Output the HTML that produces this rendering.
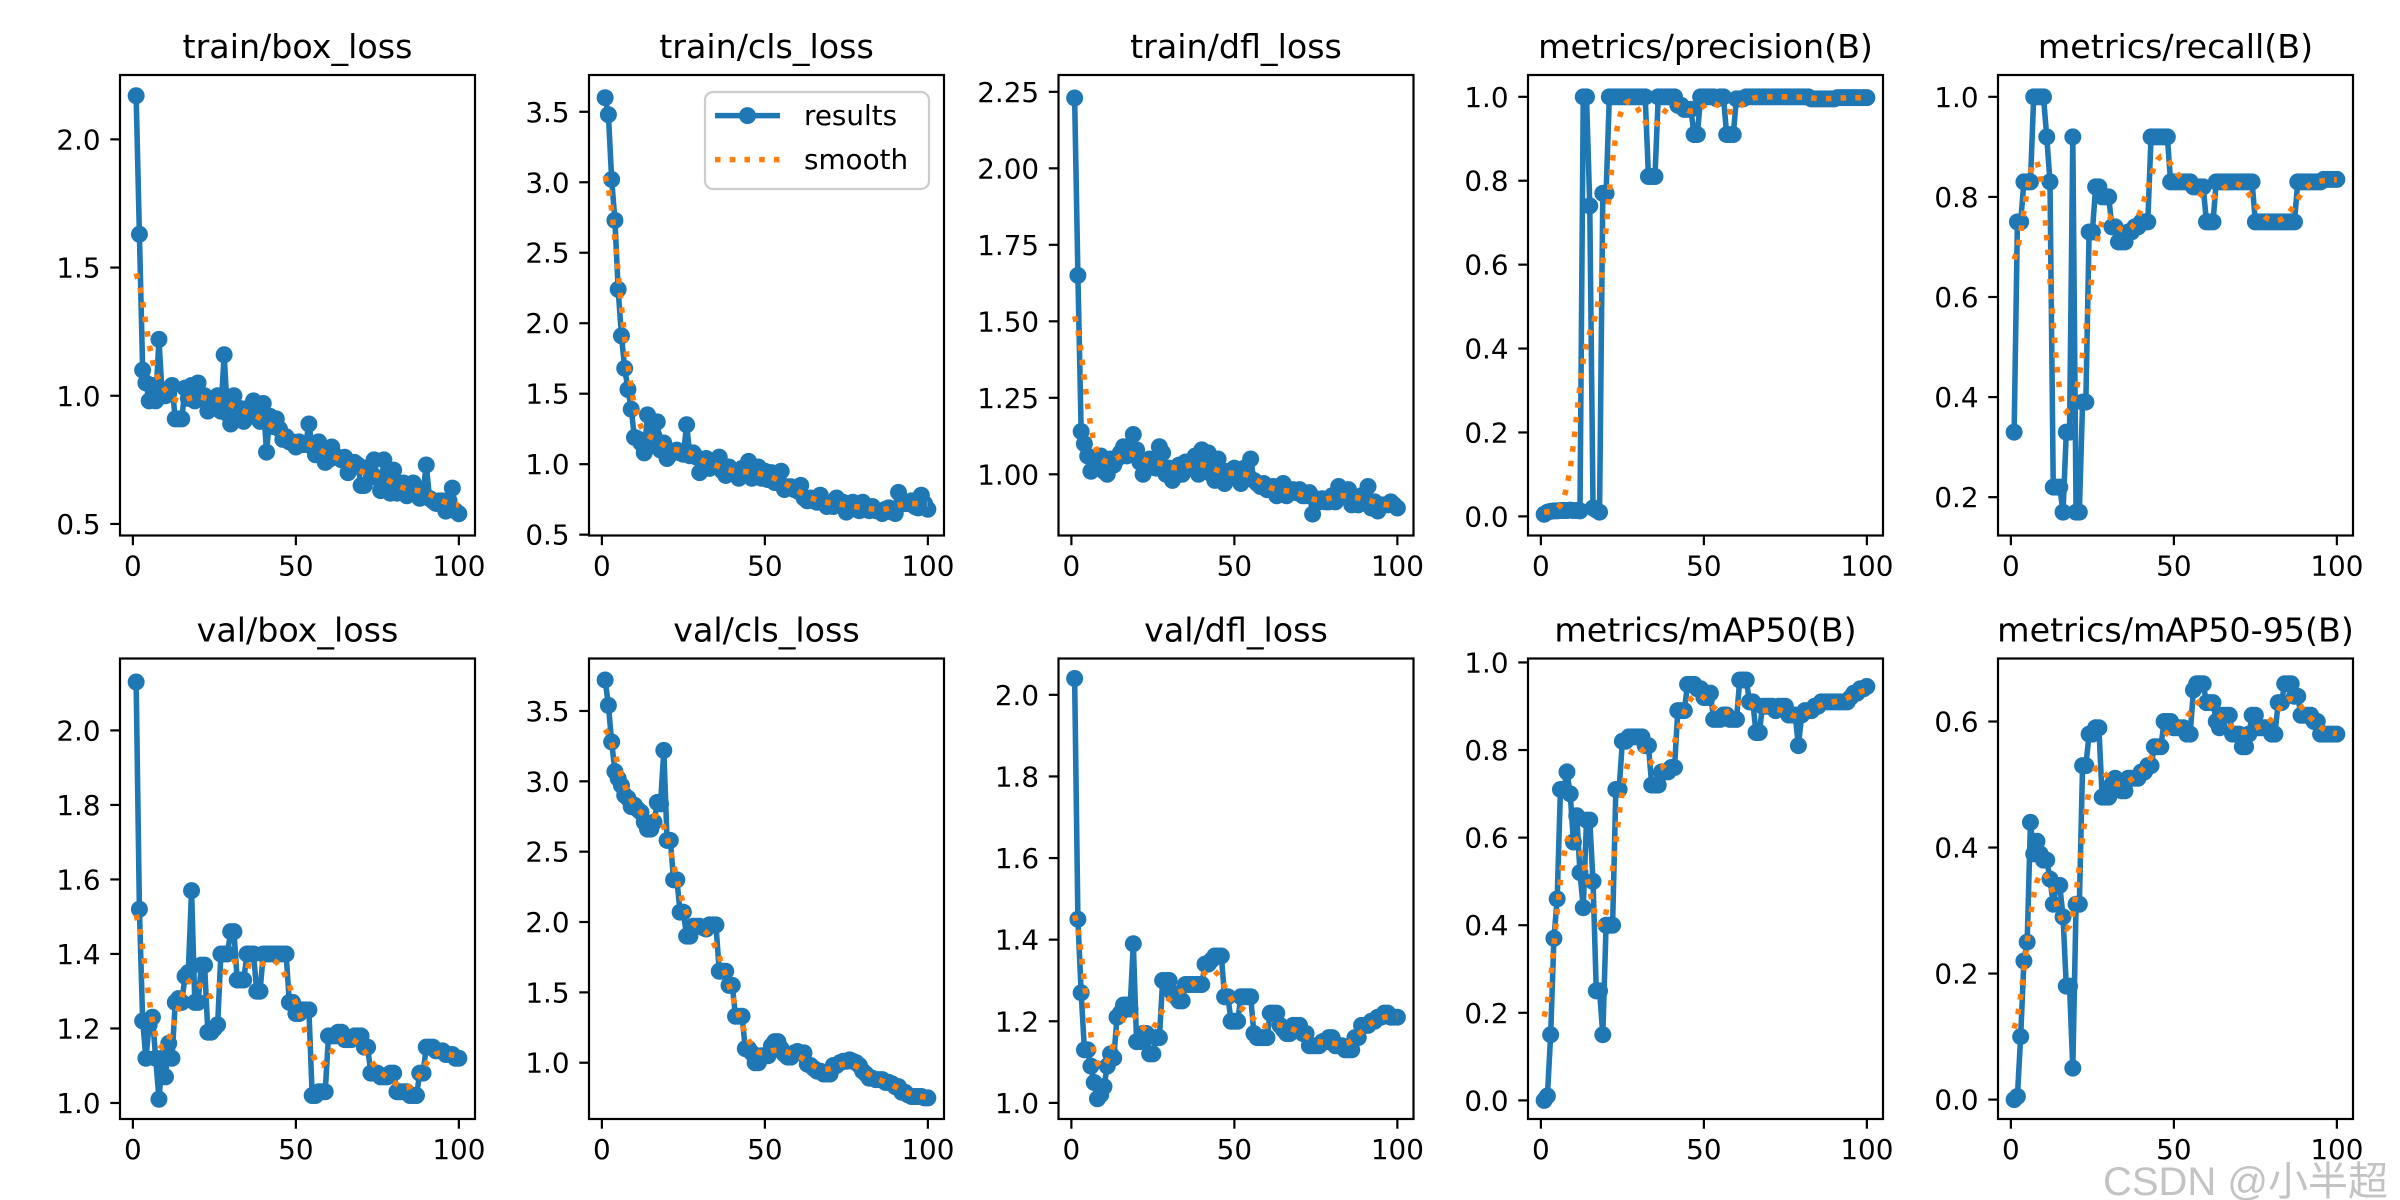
<!DOCTYPE html>
<html><head><meta charset="utf-8"><title>results</title>
<style>html,body{margin:0;padding:0;background:#fff;}svg{display:block;}</style></head>
<body>
<svg id="fig" xmlns="http://www.w3.org/2000/svg" width="2400" height="1200" viewBox="0 0 2400 1200">
<rect x="0" y="0" width="2400" height="1200" fill="#fff"/>
<g id="plots"></g>
<g>
  <rect x="705" y="92" width="224" height="97" rx="8" fill="#fff" fill-opacity="0.8" stroke="#cccccc" stroke-width="2.2"/>
  <line x1="715" y1="115.6" x2="780" y2="115.6" stroke="#1f77b4" stroke-width="5.56"/>
  <circle cx="747.5" cy="115.6" r="8.5" fill="#1f77b4"/>
  <text x="804" y="125" font-family="DejaVu Sans, Liberation Sans, sans-serif" font-size="27.8">results</text>
  <line x1="715" y1="159.6" x2="780" y2="159.6" stroke="#ff7f0e" stroke-width="5.56" stroke-dasharray="5.56 9.17"/>
  <text x="804" y="169" font-family="DejaVu Sans, Liberation Sans, sans-serif" font-size="27.8">smooth</text>
</g>
<text x="2388" y="1195" text-anchor="end" font-family="Liberation Sans, Noto Sans CJK SC, sans-serif" font-size="40" fill="#bdbdbd" fill-opacity="0.9">CSDN @小半超</text>
</svg>
<script>
const epochs = Array.from({length:100},(_,i)=>i+1);
const xTicks = [0,50,100];
const trainBox = [2.17,1.63,1.10,1.05,0.98,1.04,0.98,1.22,1.00,1.00,1.01,1.04,0.91,0.91,0.91,1.03,0.99,1.04,0.98,1.05,1.00,1.00,0.94,0.97,0.97,1.00,0.94,1.16,0.93,0.89,1.00,0.93,0.95,0.90,0.95,0.92,0.98,0.92,0.90,0.97,0.78,0.92,0.88,0.91,0.87,0.83,0.84,0.82,0.82,0.80,0.82,0.81,0.81,0.89,0.80,0.77,0.82,0.78,0.74,0.75,0.80,0.76,0.76,0.75,0.76,0.70,0.74,0.74,0.73,0.65,0.65,0.72,0.70,0.75,0.68,0.63,0.75,0.67,0.62,0.71,0.62,0.63,0.66,0.61,0.62,0.66,0.62,0.60,0.62,0.73,0.60,0.59,0.58,0.59,0.59,0.55,0.59,0.64,0.55,0.54];
const trainCls = [3.60,3.48,3.02,2.73,2.24,1.91,1.68,1.53,1.39,1.19,1.18,1.15,1.08,1.35,1.13,1.20,1.30,1.10,1.15,1.04,1.07,1.09,1.10,1.08,1.07,1.28,1.06,1.08,1.05,0.94,1.02,1.04,0.97,1.02,0.98,1.05,0.95,0.92,0.98,0.95,0.94,0.90,0.97,0.94,1.02,0.90,0.93,0.98,0.90,0.95,0.89,0.94,0.87,0.90,0.95,0.82,0.84,0.84,0.82,0.81,0.85,0.76,0.74,0.76,0.74,0.73,0.78,0.73,0.70,0.71,0.70,0.76,0.73,0.73,0.66,0.71,0.73,0.68,0.67,0.73,0.68,0.67,0.70,0.67,0.67,0.65,0.68,0.69,0.66,0.65,0.80,0.73,0.72,0.72,0.74,0.70,0.69,0.78,0.72,0.68];
const trainDfl = [2.23,1.65,1.14,1.10,1.06,1.01,1.04,1.05,1.06,1.01,1.00,1.05,1.03,1.05,1.07,1.09,1.06,1.07,1.13,1.08,1.04,1.00,1.03,1.05,1.03,1.02,1.09,1.07,1.00,1.02,0.98,1.02,1.03,1.00,1.04,1.04,1.02,1.06,1.00,1.08,1.01,1.07,1.00,0.98,1.05,1.00,0.97,1.01,1.01,1.02,1.00,0.97,1.02,1.00,1.05,0.98,0.97,0.96,0.97,0.95,0.95,0.96,0.93,0.94,0.97,0.93,0.95,0.95,0.94,0.95,0.93,0.93,0.94,0.87,0.92,0.91,0.92,0.91,0.91,0.93,0.91,0.96,0.95,0.93,0.95,0.90,0.92,0.90,0.93,0.93,0.96,0.89,0.91,0.88,0.90,0.90,0.90,0.91,0.90,0.89];
const precision = [0.005,0.01,0.012,0.013,0.013,0.014,0.014,0.014,0.015,0.014,0.014,0.013,1.0,1.0,0.74,0.02,0.015,0.01,0.77,0.77,1.0,1.0,1.0,1.0,1.0,1.0,1.0,1.0,1.0,1.0,1.0,1.0,0.81,0.81,0.81,1.0,1.0,1.0,1.0,1.0,1.0,0.98,0.98,0.97,0.97,0.97,0.91,0.91,1.0,1.0,1.0,1.0,1.0,0.995,1.0,1.0,0.91,0.91,0.91,0.995,0.995,0.995,1.0,1.0,1.0,1.0,1.0,1.0,1.0,1.0,1.0,1.0,1.0,1.0,1.0,1.0,1.0,1.0,1.0,1.0,1.0,1.0,0.995,0.995,0.995,0.995,0.995,0.995,0.995,0.995,0.998,0.998,0.998,0.998,0.998,0.998,0.998,0.998,0.998,0.998];
const recall = [0.33,0.75,0.75,0.83,0.83,0.83,1.0,1.0,1.0,1.0,0.92,0.83,0.22,0.22,0.22,0.17,0.33,0.33,0.92,0.17,0.17,0.39,0.39,0.73,0.73,0.82,0.82,0.80,0.80,0.80,0.74,0.74,0.71,0.71,0.71,0.73,0.73,0.74,0.74,0.75,0.75,0.75,0.92,0.92,0.92,0.92,0.92,0.92,0.83,0.83,0.83,0.83,0.83,0.83,0.83,0.82,0.82,0.82,0.82,0.75,0.75,0.75,0.83,0.83,0.83,0.83,0.83,0.83,0.83,0.83,0.83,0.83,0.83,0.83,0.75,0.75,0.75,0.75,0.75,0.75,0.75,0.75,0.75,0.75,0.75,0.75,0.75,0.83,0.83,0.83,0.83,0.83,0.83,0.83,0.83,0.835,0.835,0.835,0.835,0.835];
const valBox = [2.13,1.52,1.22,1.12,1.21,1.23,1.12,1.01,1.12,1.07,1.16,1.12,1.27,1.28,1.27,1.34,1.35,1.57,1.27,1.27,1.37,1.37,1.19,1.19,1.20,1.21,1.40,1.40,1.40,1.46,1.46,1.33,1.33,1.33,1.40,1.40,1.40,1.30,1.30,1.40,1.40,1.40,1.40,1.40,1.40,1.40,1.40,1.27,1.27,1.24,1.24,1.25,1.25,1.25,1.02,1.02,1.03,1.03,1.03,1.18,1.18,1.18,1.19,1.19,1.17,1.17,1.17,1.18,1.18,1.18,1.15,1.15,1.08,1.08,1.08,1.07,1.07,1.07,1.08,1.08,1.03,1.03,1.03,1.03,1.02,1.02,1.02,1.08,1.08,1.15,1.15,1.15,1.14,1.14,1.14,1.13,1.13,1.13,1.12,1.12];
const valCls = [3.72,3.54,3.28,3.07,3.02,2.97,2.90,2.88,2.82,2.83,2.80,2.78,2.71,2.66,2.66,2.71,2.85,2.84,3.22,2.58,2.58,2.30,2.30,2.07,2.07,1.90,1.90,1.97,1.97,1.97,1.96,1.95,1.98,1.98,1.98,1.65,1.65,1.65,1.55,1.55,1.33,1.33,1.33,1.10,1.10,1.07,1.00,1.00,1.05,1.05,1.05,1.12,1.15,1.15,1.10,1.06,1.04,1.04,1.07,1.08,1.07,1.07,0.99,0.98,0.96,0.94,0.94,0.92,0.92,0.92,0.98,0.98,1.00,1.01,1.01,1.02,1.01,1.00,0.98,0.94,0.92,0.89,0.89,0.88,0.88,0.88,0.86,0.86,0.85,0.83,0.83,0.79,0.79,0.77,0.76,0.76,0.76,0.76,0.75,0.75];
const valDfl = [2.04,1.45,1.27,1.13,1.13,1.09,1.05,1.01,1.02,1.04,1.09,1.12,1.11,1.21,1.22,1.24,1.24,1.23,1.39,1.15,1.15,1.17,1.17,1.12,1.12,1.16,1.16,1.30,1.30,1.30,1.27,1.26,1.25,1.25,1.29,1.29,1.29,1.29,1.29,1.29,1.34,1.34,1.35,1.36,1.36,1.36,1.26,1.26,1.20,1.20,1.20,1.26,1.26,1.26,1.26,1.17,1.16,1.16,1.16,1.16,1.22,1.22,1.22,1.19,1.18,1.17,1.17,1.19,1.19,1.19,1.17,1.17,1.14,1.14,1.14,1.14,1.15,1.15,1.16,1.16,1.14,1.14,1.14,1.13,1.13,1.13,1.16,1.16,1.19,1.19,1.19,1.20,1.20,1.21,1.21,1.22,1.22,1.21,1.21,1.21];
const map50 = [0.00,0.01,0.15,0.37,0.46,0.71,0.71,0.75,0.70,0.59,0.65,0.52,0.44,0.64,0.64,0.50,0.25,0.25,0.15,0.40,0.40,0.40,0.71,0.71,0.82,0.82,0.83,0.83,0.83,0.83,0.83,0.81,0.81,0.72,0.72,0.72,0.75,0.75,0.75,0.76,0.76,0.89,0.89,0.89,0.95,0.95,0.95,0.94,0.94,0.92,0.92,0.93,0.87,0.87,0.87,0.88,0.88,0.87,0.87,0.87,0.96,0.96,0.96,0.91,0.91,0.84,0.84,0.90,0.90,0.90,0.90,0.89,0.90,0.90,0.90,0.88,0.88,0.88,0.81,0.88,0.89,0.89,0.89,0.90,0.90,0.91,0.91,0.91,0.91,0.91,0.91,0.91,0.91,0.91,0.92,0.93,0.93,0.94,0.94,0.945];
const map5095 = [0.0,0.005,0.10,0.22,0.25,0.44,0.39,0.41,0.39,0.38,0.38,0.35,0.31,0.34,0.34,0.29,0.18,0.18,0.05,0.31,0.31,0.53,0.53,0.58,0.58,0.59,0.59,0.48,0.48,0.48,0.50,0.51,0.50,0.49,0.49,0.51,0.51,0.51,0.51,0.52,0.52,0.53,0.53,0.56,0.56,0.56,0.60,0.60,0.60,0.59,0.59,0.59,0.59,0.58,0.58,0.65,0.66,0.66,0.66,0.63,0.63,0.63,0.60,0.59,0.61,0.61,0.61,0.58,0.58,0.58,0.56,0.56,0.58,0.61,0.61,0.59,0.59,0.59,0.59,0.58,0.58,0.63,0.63,0.66,0.66,0.66,0.64,0.64,0.61,0.61,0.61,0.61,0.60,0.60,0.58,0.58,0.58,0.58,0.58,0.58];
const ticks1 = [0.5,1.0,1.5,2.0];
const ticks2 = [0.5,1.0,1.5,2.0,2.5,3.0,3.5];
const ticks3 = [1.00,1.25,1.50,1.75,2.00,2.25];
const ticks4 = [0.0,0.2,0.4,0.6,0.8,1.0];
const ticks5 = [0.2,0.4,0.6,0.8,1.0];
const ticks6 = [1.0,1.2,1.4,1.6,1.8,2.0];
const ticks7 = [1.0,1.5,2.0,2.5,3.0,3.5];
const ticks8 = [1.0,1.2,1.4,1.6,1.8,2.0];
const ticks9 = [0.0,0.2,0.4,0.6,0.8,1.0];
const ticks10 = [0.0,0.2,0.4,0.6];
const titles = ["train/box_loss","train/cls_loss","train/dfl_loss","metrics/precision(B)","metrics/recall(B)","val/box_loss","val/cls_loss","val/dfl_loss","metrics/mAP50(B)","metrics/mAP50-95(B)"];
const names = ["train-box-loss","train-cls-loss","train-dfl-loss","precision","recall","val-box-loss","val-cls-loss","val-dfl-loss","map50","map50-95"];
const series = [trainBox,trainCls,trainDfl,precision,recall,valBox,valCls,valDfl,map50,map5095];
const yTickSets = [ticks1,ticks2,ticks3,ticks4,ticks5,ticks6,ticks7,ticks8,ticks9,ticks10];
const tickDecimals = [1,1,2,1,1,1,1,1,1,1];
const yLims = [[0.455,2.251],[0.494,3.761],[0.80,2.305],[-0.0456,1.052],[0.1234,1.0436],[0.957,2.193],[0.600,3.873],[0.9605,2.089],[-0.0425,1.009],[-0.0308,0.700]];

const NS="http://www.w3.org/2000/svg";
const FONT="DejaVu Sans, Liberation Sans, sans-serif";
const colLeft=[120,589,1058.5,1528,1998], W=355, rowTop=[75,658.5], H=460.5;
const XMIN=-3.95, XMAX=104.95;
function mk(tag,attrs,parent){const e=document.createElementNS(NS,tag);for(const k in attrs)e.setAttribute(k,attrs[k]);if(parent)parent.appendChild(e);return e;}
function smooth(y,sigma){const r=Math.round(4*sigma);const w=[];let s=0;for(let i=-r;i<=r;i++){const v=Math.exp(-0.5*i*i/(sigma*sigma));w.push(v);s+=v;}
  const n=y.length;const out=[];for(let i=0;i<n;i++){let acc=0;for(let k=-r;k<=r;k++){let j=i+k;while(j<0||j>=n){if(j<0)j=-j-1;if(j>=n)j=2*n-j-1;}acc+=w[k+r]*y[j];}out.push(acc/s);}return out;}
const root=document.getElementById('plots');
for(let p=0;p<10;p++){
  const L=colLeft[p%5], T=rowTop[Math.floor(p/5)];
  const [y0,y1]=yLims[p];
  const xs=v=>L+(v-XMIN)/(XMAX-XMIN)*W;
  const ys=v=>T+H-(v-y0)/(y1-y0)*H;
  const g=mk('g',{},root);
  
  
  const title=mk('text',{x:L+W/2,y:T-17,'text-anchor':'middle','font-family':FONT,'font-size':33.3,fill:'#000'},g);
  title.textContent=titles[p];
  
  
  const clipId='c'+p;
  const cp=mk('clipPath',{id:clipId},g);mk('rect',{x:L,y:T,width:W,height:H},cp);
  const ys_=series[p];
  const pts=epochs.map((e,i)=>xs(e).toFixed(2)+','+ys(ys_[i]).toFixed(2)).join(' ');
  const dg=mk('g',{'clip-path':'url(#'+clipId+')'},g);
  const line=mk('polyline',{points:pts,fill:'none',stroke:'#1f77b4','stroke-width':5.56,'stroke-linejoin':'round'},dg);
  
  
  epochs.forEach((e,i)=>{
    const c=mk('circle',{cx:xs(e).toFixed(2),cy:ys(ys_[i]).toFixed(2),r:8.5,fill:'#1f77b4'},dg);
    
    
  });
  const sm=smooth(ys_,3);
  const spts=epochs.map((e,i)=>xs(e).toFixed(2)+','+ys(sm[i]).toFixed(2)).join(' ');
  const sl=mk('polyline',{points:spts,fill:'none',stroke:'#ff7f0e','stroke-width':5.56,'stroke-dasharray':'5.56 9.17'},dg);
  
  
  const fr=mk('rect',{x:L,y:T,width:W,height:H,fill:'none',stroke:'#000','stroke-width':2.2},g);
  
  
  xTicks.forEach(t=>{
    const x=xs(t);
    mk('line',{x1:x,y1:T+H,x2:x,y2:T+H+9.7,stroke:'#000','stroke-width':2.2},g);
    const tx=mk('text',{x:x,y:T+H+40,'text-anchor':'middle','font-family':FONT,'font-size':27.8,fill:'#000'},g);
    tx.textContent=String(t);
    
    
  });
  yTickSets[p].forEach(t=>{
    const y=ys(t);
    mk('line',{x1:L,y1:y,x2:L-9.7,y2:y,stroke:'#000','stroke-width':2.2},g);
    const ty=mk('text',{x:L-19.4,y:y+10,'text-anchor':'end','font-family':FONT,'font-size':27.8,fill:'#000'},g);
    ty.textContent=t.toFixed(tickDecimals[p]);
    
    
  });
}
</script>
</body></html>
